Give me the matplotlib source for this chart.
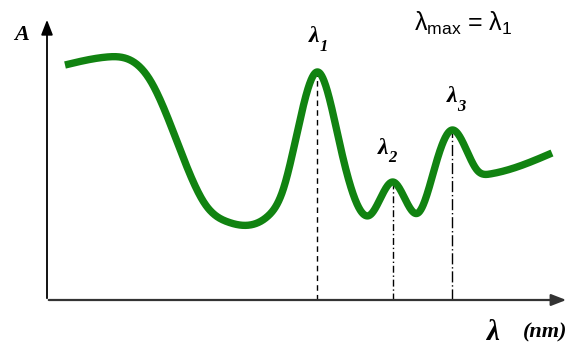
import numpy as np
import matplotlib.pyplot as plt

# absorption spectrum, sketch units (wavelength, absorbance)
wl = [65, 107, 150, 183, 205, 228, 250, 268, 283, 300, 318, 340, 370, 393, 418,
      437, 452, 477, 490, 517, 552]
absb = [235, 243, 220, 143, 96, 78, 75, 84, 110, 180, 228, 155, 85, 118, 87,
        140, 170, 130, 126, 133, 147]

peak_wl = [317, 393, 452]
peak_sub = ['1', '2', '3']
lbl_pos = [(314, 263), (383, 152), (452, 203)]
peak_styles = [(0, (4, 3)), (0, (5, 2, 1, 2)), (0, (8, 2, 1, 2))]


def spline(x, y, n=1200):
    # natural cubic spline through the points
    x = np.asarray(x, float); y = np.asarray(y, float)
    h = np.diff(x)
    m = len(x)
    A = np.zeros((m, m)); r = np.zeros(m)
    A[0, 0] = A[-1, -1] = 1
    for i in range(1, m-1):
        A[i, i-1] = h[i-1]; A[i, i] = 2*(h[i-1]+h[i]); A[i, i+1] = h[i]
        r[i] = 6*((y[i+1]-y[i])/h[i] - (y[i]-y[i-1])/h[i-1])
    M = np.linalg.solve(A, r)
    xs = np.linspace(x[0], x[-1], n)
    k = np.clip(np.searchsorted(x, xs) - 1, 0, m-2)
    t0 = xs - x[k]; t1 = x[k+1] - xs; hk = h[k]
    ys = (M[k]*t1**3 + M[k+1]*t0**3)/(6*hk) + (y[k]/hk - M[k]*hk/6)*t1 + (y[k+1]/hk - M[k+1]*hk/6)*t0
    return xs, ys


fig = plt.figure(figsize=(5.69, 3.45), dpi=100)
ax = fig.add_axes([0, 0, 1, 1])
ax.set_xlim(0, 569)
ax.set_ylim(-45, 300)
ax.axis('off')

sx, sy = spline(wl, absb)
ax.plot(sx, sy, color='#118311', lw=5.3, solid_capstyle='butt', zorder=3)

# axes with arrow heads
ax.annotate('', xy=(47, 283), xytext=(47, -1),
            arrowprops=dict(arrowstyle='-|>,head_length=0.9,head_width=0.35', color='black', lw=1.3))
ax.annotate('', xy=(569, 0), xytext=(46, 0),
            arrowprops=dict(arrowstyle='-|>,head_length=0.9,head_width=0.35', color='#333333', lw=1.6))

serif = dict(family='Liberation Serif', style='italic', weight='bold')
for w, sub, ls, pos in zip(peak_wl, peak_sub, peak_styles, lbl_pos):
    h = np.interp(w, sx, sy)
    ax.plot([w, w], [0, h - 3], color='black', lw=1.0, linestyle=ls, zorder=2)
    ax.text(pos[0], pos[1], 'λ', ha='center', va='center', fontsize=17, **serif)
    ax.annotate(sub, (pos[0], pos[1]), xytext=(4, -7), textcoords='offset points',
                ha='left', va='center', fontsize=12, **serif)

ax.text(22, 265, 'A', ha='center', va='center', fontsize=16, **serif)
ax.text(493, -32, 'λ', ha='center', va='center', fontsize=21, **serif)
ax.text(545, -32, '(nm)', ha='center', va='center', fontsize=16, **serif)

ax.text(463, 277, r'λ$_{\mathregular{max}}$ = λ$_{\mathregular{1}}$', ha='center', va='center',
        fontsize=18, family='Liberation Sans')

fig.savefig('out.png', dpi=100)
